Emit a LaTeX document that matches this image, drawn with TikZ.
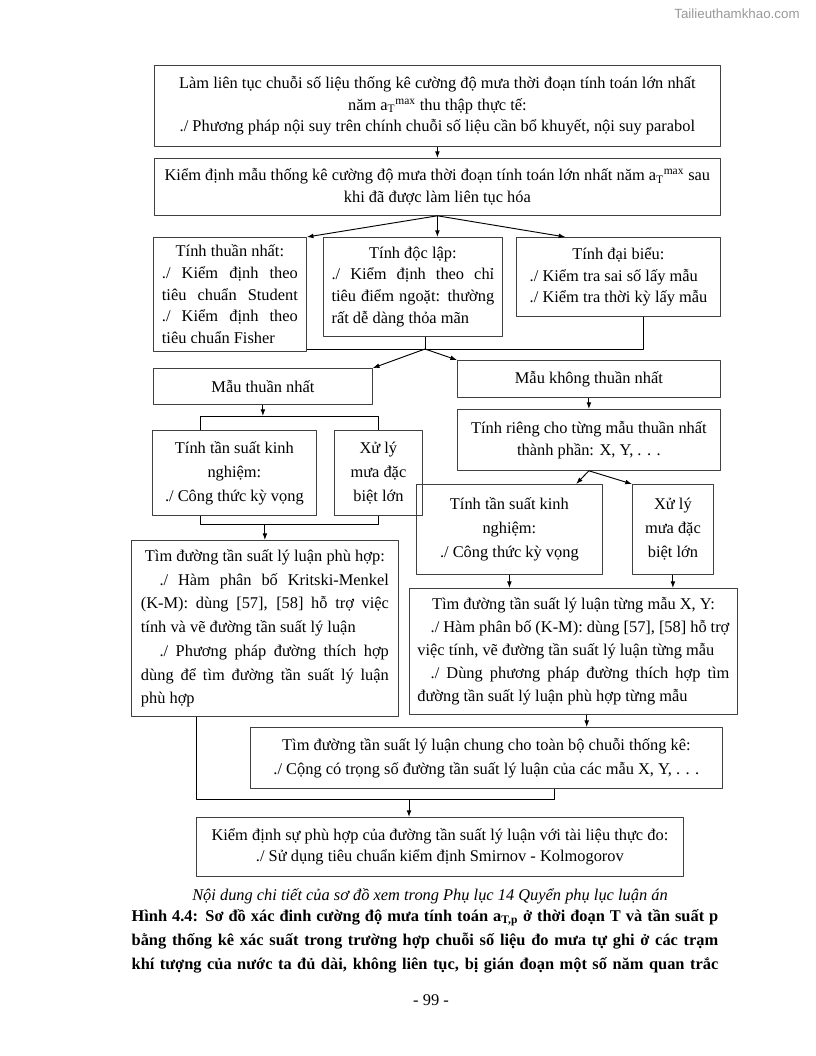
\documentclass[tikz,border=0pt]{standalone}
\usepackage{fontspec}
\setmainfont{Liberation Serif}
\newfontfamily\markfont{Liberation Sans}
\usetikzlibrary{arrows.meta}

\newcommand{\jrow}[2]{\makebox[#1][s]{#2}}
\newcommand{\lrow}[2]{\makebox[#1][l]{#2}}
\newcommand{\amax}{a\textsubscript{T}\textsuperscript{max}}
\newcommand{\boxfont}[1]{\fontsize{12.3}{#1}\selectfont}

\begin{document}
\begin{tikzpicture}[x=0.75pt, y=-0.75pt, line join=round,
    box/.style={draw=black!75, line width=0.6pt, anchor=north west, inner sep=2pt,
      align=center, font=\boxfont{16.3}},
    boxsize/.style 2 args={minimum width=#1*0.75pt, minimum height=#2*0.75pt},
    wide/.style={font=\boxfont{18}},
    link/.style={line width=0.7pt},
    arr/.style={line width=0.7pt, -{Latex[length=5pt,width=3.6pt]}}]

    \fill[white] (0,0) rectangle (816,1056);
    \useasboundingbox (0,0) rectangle (816,1056);

    % --- top boxes ---
    \node[box, boxsize={566}{81}] (lam) at (154,65)
      {Làm liên tục chuỗi số liệu thống kê cường độ mưa thời đoạn tính toán lớn nhất\\
       năm \amax{} thu thập thực tế:\\
       ./ Phương pháp nội suy trên chính chuỗi số liệu cần bổ khuyết, nội suy parabol};
    \node[box, boxsize={566}{57}] (kd) at (154,158)
      {Kiểm định mẫu thống kê cường độ mưa thời đoạn tính toán lớn nhất năm \amax{} sau\\
       khi đã được làm liên tục hóa};

    % --- three tests ---
    \node[box, boxsize={153}{114}] (thuan) at (153,237)
      {Tính thuần nhất:\\
       \jrow{102pt}{./ Kiểm định theo}\\
       \jrow{102pt}{tiêu chuẩn Student}\\
       \jrow{102pt}{./ Kiểm định theo}\\
       \lrow{102pt}{tiêu chuẩn Fisher}};
    \node[box, boxsize={179}{99}] (doclap) at (323,237)
      {Tính độc lập:\\
       \jrow{122pt}{./ Kiểm định theo chỉ}\\
       \jrow{122pt}{tiêu điểm ngoặt: thường}\\
       \lrow{122pt}{rất dễ dàng thỏa mãn}};
    \node[box, boxsize={204}{79}] (daibieu) at (516,237)
      {Tính đại biểu:\\
       \lrow{133pt}{./ Kiểm tra sai số lấy mẫu}\\
       \lrow{133pt}{./ Kiểm tra thời kỳ lấy mẫu}};

    % --- samples ---
    \node[box, boxsize={219}{36}] (mtn) at (153,368) {Mẫu thuần nhất};
    \node[box, boxsize={263}{37}] (mktn) at (457,360) {Mẫu không thuần nhất};
    \node[box, boxsize={263}{61}] (rieng) at (457,409)
      {Tính riêng cho từng mẫu thuần nhất\\ thành phần: X, Y, . . .};

    % left branch
    \node[box, wide, boxsize={164}{85}] (tsa) at (152,430)
      {Tính tần suất kinh\\ nghiệm:\\ ./ Công thức kỳ vọng};
    \node[box, wide, boxsize={88}{85}] (xla) at (334,430)
      {Xử lý\\ mưa đặc\\ biệt lớn};
    \node[box, boxsize={267}{176}, font=\boxfont{17.8}] (phuhop) at (131,540)
      {Tìm đường tần suất lý luận phù hợp:\\
       \jrow{186pt}{\hspace*{14pt}./ Hàm phân bố Kritski-Menkel}\\
       \jrow{186pt}{(K-M): dùng [57], [58] hỗ trợ việc}\\
       \lrow{186pt}{tính và vẽ đường tần suất lý luận}\\
       \jrow{186pt}{\hspace*{14pt}./ Phương pháp đường thích hợp}\\
       \jrow{186pt}{dùng để tìm đường tần suất lý luận}\\
       \lrow{186pt}{phù hợp}};

    % right branch
    \node[box, wide, boxsize={186}{90}] (tsb) at (416,484)
      {Tính tần suất kinh\\ nghiệm:\\ ./ Công thức kỳ vọng};
    \node[box, wide, boxsize={81}{90}] (xlb) at (632,484)
      {Xử lý\\ mưa đặc\\ biệt lớn};
    \node[box, boxsize={328}{126}, font=\boxfont{17.3}] (tungmau) at (409,588)
      {Tìm đường tần suất lý luận từng mẫu X, Y:\\
       \jrow{234pt}{\hspace*{10pt}./ Hàm phân bố (K-M): dùng [57], [58] hỗ trợ}\\
       \lrow{234pt}{việc tính, vẽ đường tần suất lý luận từng mẫu}\\
       \jrow{234pt}{\hspace*{10pt}./ Dùng phương pháp đường thích hợp tìm}\\
       \lrow{234pt}{đường tần suất lý luận phù hợp từng mẫu}};

    % --- bottom boxes ---
    \node[box, wide, boxsize={472}{61}] (chung) at (250,727)
      {Tìm đường tần suất lý luận chung cho toàn bộ chuỗi thống kê:\\
       ./ Cộng có trọng số đường tần suất lý luận của các mẫu X, Y, . . .};
    \node[box, boxsize={487}{59}] (kiemdinh) at (196,817)
      {Kiểm định sự phù hợp của đường tần suất lý luận với tài liệu thực đo:\\
       ./ Sử dụng tiêu chuẩn kiểm định Smirnov - Kolmogorov};

    % --- connectors ---
    \draw[arr] (lam.south) -- (kd.north);
    \draw[arr] (kd.south) -- (thuan.north east);
    \draw[arr] (kd.south) -- (kd.south |- doclap.north);
    \draw[arr] (kd.south) -- ([xshift=37pt]daibieu.north west);

    \coordinate (m) at (425,349);
    \coordinate (r1) at ([xshift=19pt]daibieu.south);
    \draw[link] (thuan.east |- m) -| (r1);
    \draw[link] (doclap.south -| m) -- (m);
    \draw[arr] (m) -- (mtn.north east);
    \draw[arr] (m) -- (mktn.north west);

    % left
    \coordinate (t1) at (200,416);
    \coordinate (t2) at (200,524);
    \draw[arr] (mtn.south) -- (mtn.south |- t1);
    \draw[link] (tsa.north -| t1) -- (t1) -| (xla.north);
    \draw[link] (tsa.south -| t2) -- (t2) -| (xla.south);
    \draw[arr] (phuhop.north |- t2) -- (phuhop.north);

    % right
    \draw[arr] (mktn.south) -- (rieng.north);
    \draw[arr] (rieng.south) -- ([xshift=-20pt]tsb.north east);
    \draw[arr] (rieng.south) -- (xlb.north west);
    \draw[arr] (tsb.south) -- (tsb.south |- tungmau.north);
    \draw[arr] (xlb.south) -- (xlb.south |- tungmau.north);
    \coordinate (r2) at ([xshift=10pt]tungmau.south);
    \draw[arr] (r2) -- (r2 |- chung.north);

    % bottom
    \coordinate (t3) at (196,799);
    \coordinate (t4) at (554,799);
    \coordinate (t5) at (409,799);
    \draw[link] (phuhop.south -| t3) -- (t3) -- (t4) -- (chung.south -| t4);
    \draw[arr] (t5) -- (t5 |- kiemdinh.north);

    % --- captions ---
    \node[font=\fontsize{12.3}{15}\selectfont\itshape] (ghichu) at (430,896)
      {Nội dung chi tiết của sơ đồ xem trong Phụ lục 14 Quyển phụ lục luận án};
    \node[align=center, font=\fontsize{12.3}{18}\selectfont\bfseries] (hinh) at (425,941)
      {\jrow{440pt}{Hình 4.4: Sơ đồ xác đinh cường độ mưa tính toán a\textsubscript{T,p} ở thời đoạn T và tần suất p}\\
       \jrow{440pt}{bằng thống kê xác suất trong trường hợp chuỗi số liệu đo mưa tự ghi ở các trạm}\\
       \jrow{440pt}{khí tượng của nước ta đủ dài, không liên tục, bị gián đoạn một số năm quan trắc}};
    \node[font=\fontsize{12.3}{15}\selectfont] (trang) at (431,1000) {- 99 -};
    \node[font=\markfont\fontsize{10}{12}\selectfont, text=black!40] (mark) at (737,14) {Tailieuthamkhao.com};
\end{tikzpicture}
\end{document}
